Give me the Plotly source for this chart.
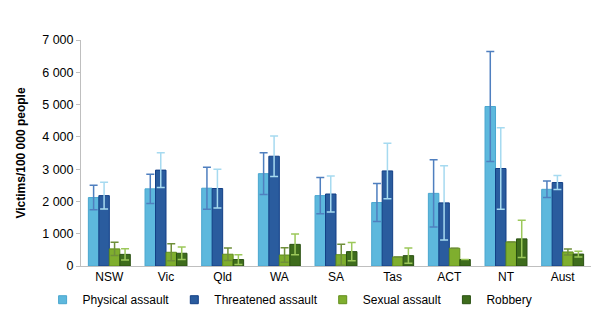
import plotly.graph_objects as go

categories = ["NSW", "Vic", "Qld", "WA", "SA", "Tas", "ACT", "NT", "Aust"]
series_names = ["Physical assault", "Threatened assault", "Sexual assault", "Robbery"]

physical = [2120, 2390, 2410, 2860, 2180, 1965, 2250, 4940, 2375]
physical_err = [380, 455, 650, 645, 560, 590, 1040, 1705, 255]
threatened = [2180, 2970, 2400, 3400, 2230, 2945, 1955, 3020, 2585]
threatened_err = [415, 540, 600, 630, 555, 860, 1150, 1260, 215]
sexual = [530, 425, 365, 340, 350, 280, 550, 745, 435]
sexual_err = [205, 265, 195, 225, 325, 0, 0, 0, 95]
robbery = [360, 395, 200, 670, 445, 320, 200, 840, 370]
robbery_err = [175, 190, 150, 325, 285, 235, 0, 575, 90]

y_ticks = [0, 1000, 2000, 3000, 4000, 5000, 6000, 7000]

values = [physical, threatened, sexual, robbery]
errors = [physical_err, threatened_err, sexual_err, robbery_err]
fills = ["#5DB8DD", "#2A5C9E", "#7FAE2E", "#3E6C1C"]
edges = ["#4AA6CF", "#123F86", "#628F1C", "#2A5112"]
err_colors = ["#4F7FBF", "#A6DAF0", "#6F8F3A", "#9CC85A"]

fig = go.Figure()
for name, v, e, fc, ec, erc in zip(series_names, values, errors, fills, edges, err_colors):
    fig.add_trace(go.Bar(
        x=categories, y=v, name=name, showlegend=False,
        marker=dict(color=fc, line=dict(color=ec, width=1)),
        error_y=dict(type="data", array=e, visible=True, color=erc, thickness=1.5, width=4),
    ))
# legend entries as small squares
for name, fc, ec in zip(series_names, fills, edges):
    fig.add_trace(go.Scatter(
        x=[None], y=[None], mode="markers", name=name,
        marker=dict(symbol="square", size=8, color=fc, line=dict(color=ec, width=1)),
    ))

fig.update_layout(
    width=600, height=326,
    margin=dict(l=81, r=9, t=40, b=60, autoexpand=False),
    barmode="group", bargap=0.26, bargroupgap=0,
    plot_bgcolor="white", paper_bgcolor="white",
    font=dict(family="Liberation Sans, Arial, sans-serif", size=12, color="#000000"),
    separators=". ",
    showlegend=True,
    legend=dict(orientation="h", x=0.41, xanchor="center", y=-0.085, yanchor="top",
                font=dict(size=12), itemwidth=30, tracegroupgap=0),
    yaxis=dict(range=[0, 7000], tickvals=y_ticks, tickformat=",d",
               showgrid=False, showline=True, linecolor="#BFBFBF", linewidth=1,
               ticks="outside", ticklen=4, tickcolor="#BFBFBF",
               title=dict(text="<b>Victims/100 000 people</b>", font=dict(size=12), standoff=14),
               zeroline=False, tickfont=dict(size=12.5)),
    xaxis=dict(showgrid=False, showline=True, linecolor="#BFBFBF", linewidth=1,
               ticks="", tickfont=dict(size=12)),
)

fig.write_html("out.html")
